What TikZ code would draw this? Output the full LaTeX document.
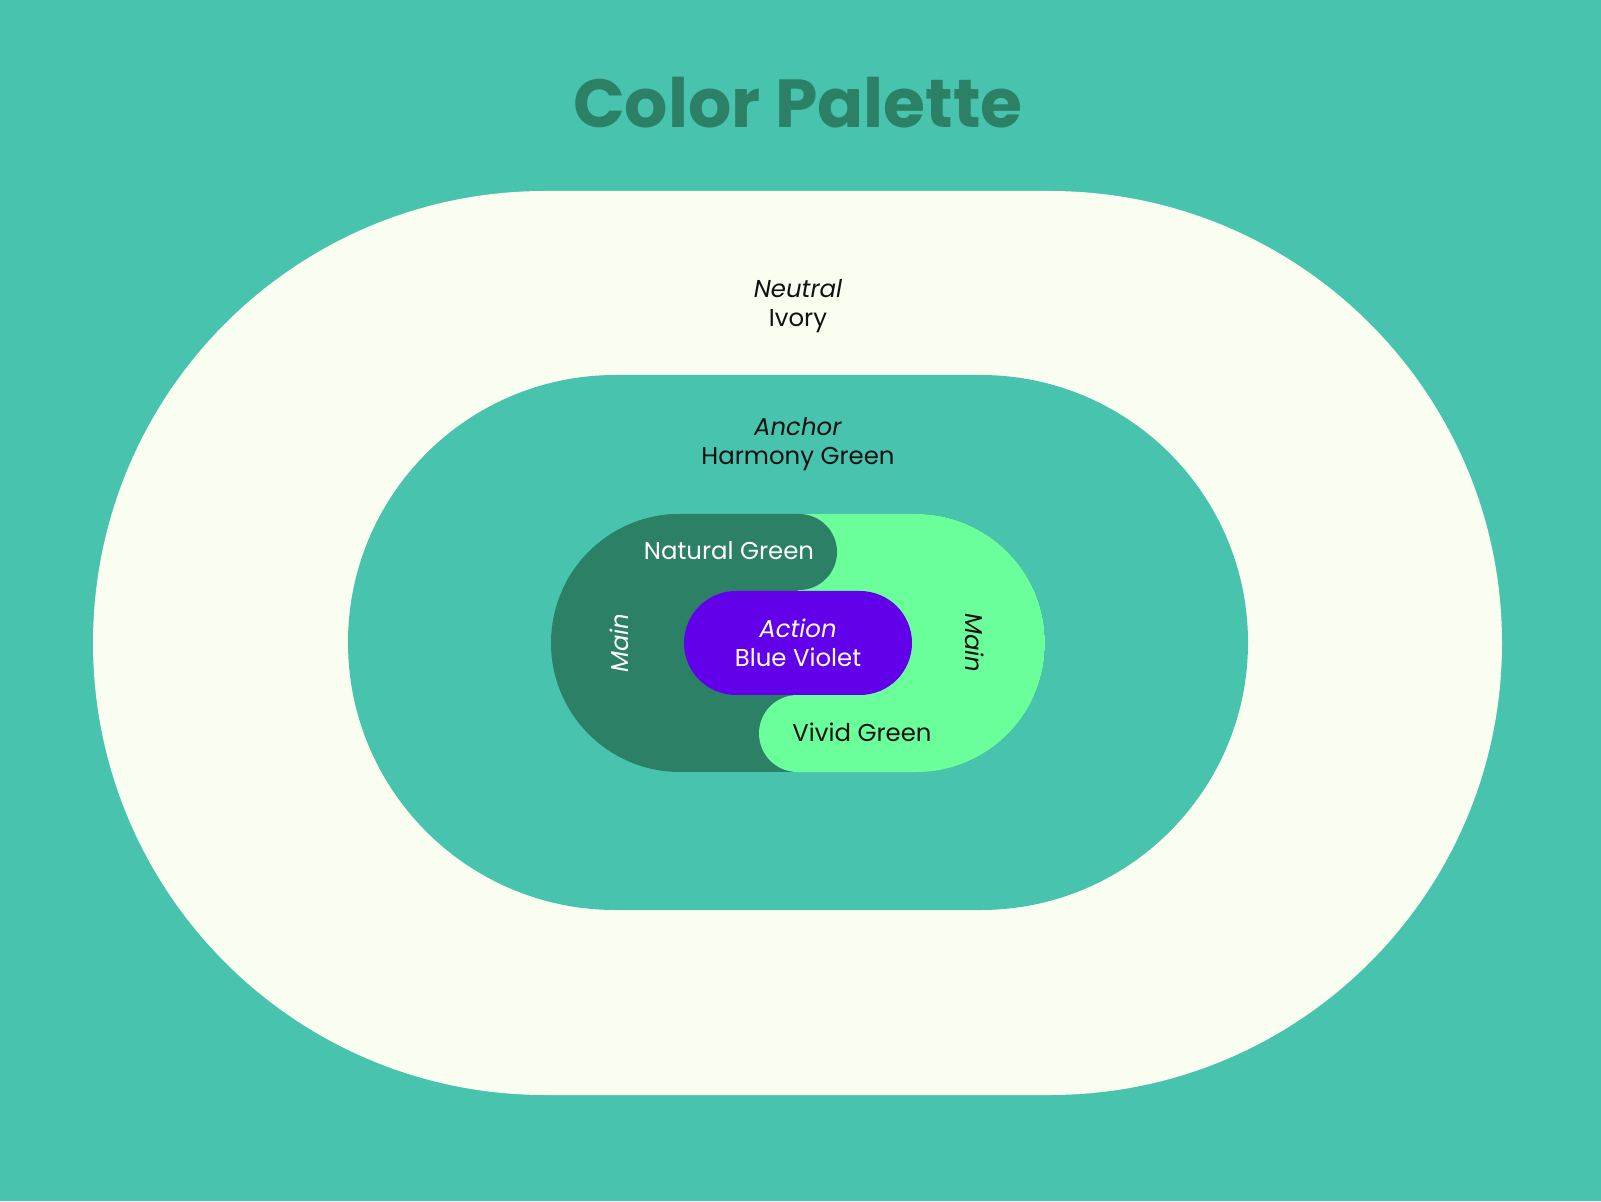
\documentclass[tikz,border=0pt]{standalone}
\usepackage{fontspec}
\setmainfont{Poppins}
\definecolor{bg}{HTML}{48C3AE}
\definecolor{ivory}{HTML}{FAFEF1}
\definecolor{natgreen}{HTML}{2B8065}
\definecolor{vivid}{HTML}{6BFF9B}
\definecolor{violet}{HTML}{6200EA}
\definecolor{ink}{HTML}{111111}
\newcommand\pill[5]{%
  \pgfmathsetmacro\pr{(#5-#3)/2}%
  \fill[#1] (#2+\pr,#3) -- (#4-\pr,#3) arc[start angle=-90,end angle=90,radius=\pr]
    -- (#2+\pr,#5) arc[start angle=90,end angle=270,radius=\pr] -- cycle;}
\newcommand\pillclip[4]{%
  \pgfmathsetmacro\pr{(#4-#2)/2}%
  \clip (#1+\pr,#2) -- (#3-\pr,#2) arc[start angle=-90,end angle=90,radius=\pr]
    -- (#1+\pr,#4) arc[start angle=90,end angle=270,radius=\pr] -- cycle;}
\tikzset{
  lbl/.style={inner sep=0pt, align=center, font=\fontsize{12.2}{14.5}\selectfont},
  titlelbl/.style={inner sep=0pt, text=natgreen, font=\fontsize{34}{40}\selectfont\bfseries}
}
\begin{document}
\begin{tikzpicture}[x=0.5pt,y=0.5pt]
\useasboundingbox (0,0) rectangle (1601,1201);
\fill[bg] (0,0) rectangle (1601,1201);
\pill{ivory}{93}{106}{1502}{1010}
\pill{bg}{348}{291}{1248}{826}
\begin{scope}
  \pillclip{551}{429}{1045}{687}
  \fill[natgreen] (551,429) rectangle (1045,687);
  \fill[vivid] (798,429) rectangle (1045,687);
  \pill{vivid}{759}{429}{1300}{506}
  \pill{natgreen}{300}{611}{837}{687}
\end{scope}
\pill{violet}{684}{506}{912}{610}
\node[titlelbl] (title) at (798,1098) {Color Palette};
\node[lbl, text=ink] (neutral) at (798,895) {\textit{Neutral}\\Ivory};
\node[lbl, text=ink] (anchor) at (798,757) {\textit{Anchor}\\Harmony Green};
\node[lbl, text=white] (natural) at (729,650) {Natural Green};
\node[lbl, text=white, rotate=90] (mainl) at (619,558) {\textit{Main}};
\node[lbl, text=ink, rotate=-90] (mainr) at (975,558) {\textit{Main}};
\node[lbl, text=white] (action) at (798,558) {\textit{Action}\\Blue Violet};
\node[lbl, text=ink] (vividlbl) at (862,469) {Vivid Green};
\end{tikzpicture}
\end{document}
